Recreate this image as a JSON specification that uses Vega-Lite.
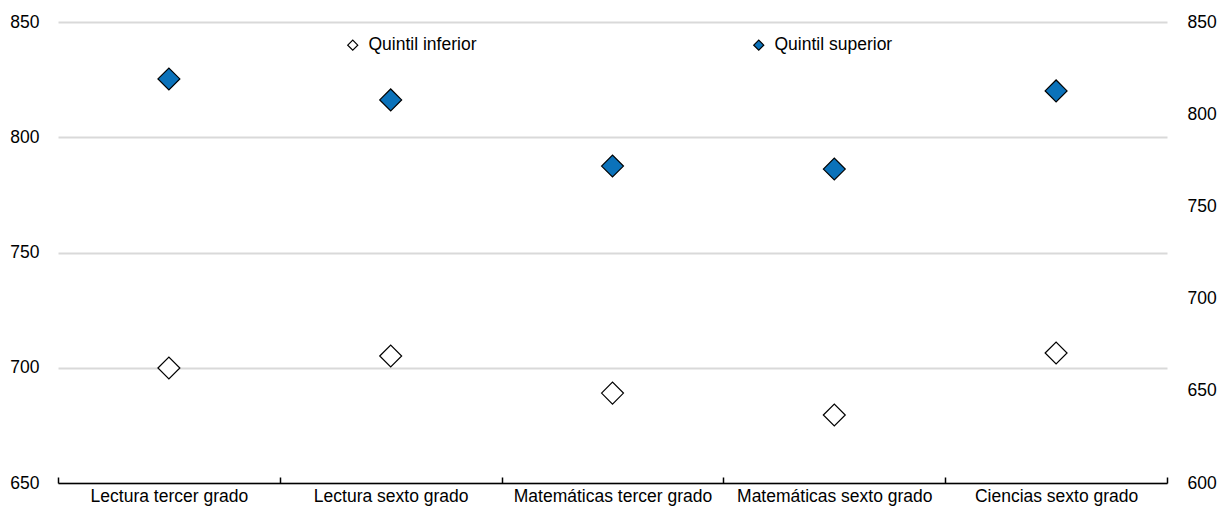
{
  "$schema": "https://vega.github.io/schema/vega-lite/v6.json",
  "width": 1109,
  "height": 461,
  "autosize": {"type": "none"},
  "padding": {"left": 58, "top": 22, "right": 54, "bottom": 28},
  "background": "white",
  "config": {
    "font": "Liberation Sans",
    "view": {"stroke": null},
    "axis": {"labelFont": "Liberation Sans", "labelFontSize": 17.5, "labelColor": "#000000", "labelLimit": 0},
    "legend": {"labelFont": "Liberation Sans", "labelFontSize": 17.5, "labelColor": "#000000", "labelLimit": 0}
  },
  "data": {
    "values": [
      {"categoria": "Lectura tercer grado", "serie": "Quintil inferior", "valor": 699.9},
      {"categoria": "Lectura sexto grado", "serie": "Quintil inferior", "valor": 705.1},
      {"categoria": "Matemáticas tercer grado", "serie": "Quintil inferior", "valor": 689.0},
      {"categoria": "Matemáticas sexto grado", "serie": "Quintil inferior", "valor": 679.5},
      {"categoria": "Ciencias sexto grado", "serie": "Quintil inferior", "valor": 706.4},
      {"categoria": "Lectura tercer grado", "serie": "Quintil superior", "valor": 825.3},
      {"categoria": "Lectura sexto grado", "serie": "Quintil superior", "valor": 816.2},
      {"categoria": "Matemáticas tercer grado", "serie": "Quintil superior", "valor": 787.5},
      {"categoria": "Matemáticas sexto grado", "serie": "Quintil superior", "valor": 786.2},
      {"categoria": "Ciencias sexto grado", "serie": "Quintil superior", "valor": 820.1}
    ]
  },
  "encoding": {
    "x": {
      "field": "categoria",
      "type": "nominal",
      "sort": ["Lectura tercer grado", "Lectura sexto grado", "Matemáticas tercer grado", "Matemáticas sexto grado", "Ciencias sexto grado"],
      "title": null,
      "axis": {
        "labelAngle": 0,
        "domainColor": "#000000",
        "domainWidth": 1.5,
        "tickColor": "#000000",
        "tickWidth": 1.5,
        "tickBand": "extent",
        "tickSize": -6,
        "labelPadding": 10,
        "labelBaseline": "top"
      }
    }
  },
  "layer": [
    {
      "mark": {"type": "point", "shape": "diamond", "filled": true, "size": 480, "stroke": "#000000", "strokeWidth": 1.2, "opacity": 1},
      "encoding": {
        "y": {
          "field": "valor",
          "type": "quantitative",
          "scale": {"domain": [650, 850], "nice": false, "zero": false},
          "title": null,
          "axis": {
            "orient": "left",
            "values": [650, 700, 750, 800, 850],
            "grid": true,
            "gridColor": "#d9d9d9",
            "gridWidth": 2,
            "domain": false,
            "ticks": false,
            "labelPadding": 19
          }
        },
        "fill": {
          "field": "serie",
          "type": "nominal",
          "scale": {"domain": ["Quintil inferior", "Quintil superior"], "range": ["#ffffff", "#0B72BA"]},
          "legend": {
            "title": null,
            "orient": "none",
            "legendX": 286,
            "legendY": 14,
            "direction": "horizontal",
            "symbolType": "diamond",
            "symbolSize": 100,
            "symbolStrokeColor": "#000000",
            "symbolStrokeWidth": 1.2,
            "labelOffset": 7,
            "columnPadding": 273
          }
        }
      }
    },
    {
      "mark": {"type": "point", "opacity": 0},
      "encoding": {
        "y": {
          "field": "valor",
          "type": "quantitative",
          "scale": {"domain": [600, 850], "nice": false, "zero": false},
          "title": null,
          "axis": {
            "orient": "right",
            "values": [600, 650, 700, 750, 800, 850],
            "grid": false,
            "domain": false,
            "ticks": false,
            "labelPadding": 20
          }
        }
      }
    }
  ],
  "resolve": {"scale": {"y": "independent"}}
}
